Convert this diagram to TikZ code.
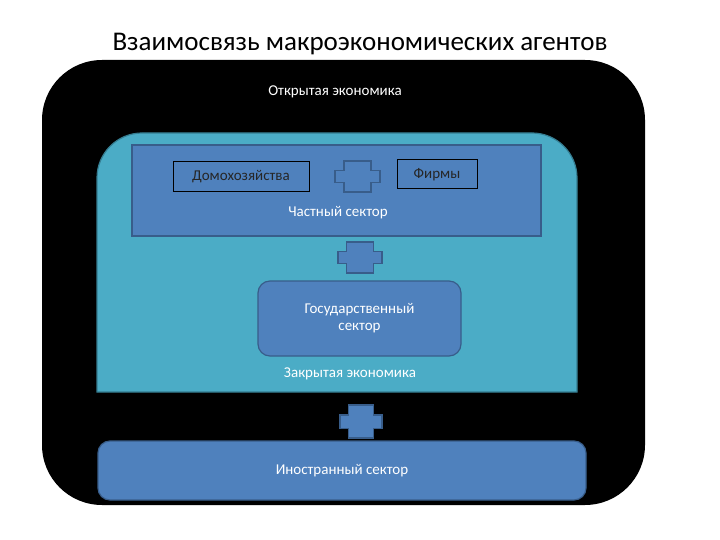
\documentclass[tikz,border=0pt]{standalone}
\usepackage{fontspec}
\setmainfont{Carlito}
\begin{document}
\begin{tikzpicture}[x=1pt,y=-1pt,
  blu/.style={fill=blue1,draw=blue2,line width=1.2pt},
  wt/.style={text=white,font=\fontsize{15}{17}\selectfont}]
\definecolor{blue1}{HTML}{4F81BD}
\definecolor{blue2}{HTML}{385D8A}
\definecolor{cyan1}{HTML}{4BACC6}
\definecolor{cyan2}{HTML}{357D91}
\useasboundingbox (0,0) rectangle (720,540);
\fill[white] (0,0) rectangle (720,540);
\node[font=\fontsize{27}{30}\selectfont] (title) at (360,44) {Взаимосвязь макроэкономических агентов};
\fill[black, rounded corners=60pt] (42,60) rectangle (645,505);
\node[wt] (open) at (335,92) {Открытая экономика};
\draw[fill=cyan1,draw=cyan2,line width=1.2pt] (97,392) -- (97,178) [rounded corners=45pt] -- (97,133) -- (577,133) [sharp corners] -- (577,392) -- cycle;
\draw[blu] (132,145) rectangle (541,236);
\node[draw=black,line width=1pt,fill=blue1,minimum width=136pt,minimum height=30pt,inner sep=0pt,font=\fontsize{15}{17}\selectfont,text=black!85] (hh) at (241,177) {Домохозяйства};
\node[draw=black,line width=1pt,fill=blue1,minimum width=80pt,minimum height=29pt,inner sep=0pt,font=\fontsize{15}{17}\selectfont,text=black!85] (firms) at (437,174.5) {\raisebox{3pt}{Фирмы}};
\node[wt] (priv) at (338,213) {Частный сектор};
\def\crossat#1#2#3#4{% x y w h
  \draw[blu] ({#1+0.2*#3},#2) -- ({#1+0.8*#3},#2) -- ({#1+0.8*#3},{#2+0.3*#4}) -- ({#1+#3},{#2+0.3*#4}) -- ({#1+#3},{#2+0.7*#4}) -- ({#1+0.8*#3},{#2+0.7*#4}) -- ({#1+0.8*#3},{#2+#4}) -- ({#1+0.2*#3},{#2+#4}) -- ({#1+0.2*#3},{#2+0.7*#4}) -- (#1,{#2+0.7*#4}) -- (#1,{#2+0.3*#4}) -- ({#1+0.2*#3},{#2+0.3*#4}) -- cycle;}
\crossat{335}{161}{45}{31}
\crossat{338}{242}{44}{31}
\crossat{340}{405}{42}{33}
\node[blu,rounded corners=12pt,minimum width=203pt,minimum height=75pt,inner sep=0pt,align=center,wt] (gov) at (359.5,318.5) {Государственный\\сектор};
\node[wt] (closed) at (350,374) {Закрытая экономика};
\node[blu,rounded corners=12pt,minimum width=488pt,minimum height=59pt,inner sep=0pt,wt] (foreign) at (342,470.5) {Иностранный сектор};
\end{tikzpicture}
\end{document}
